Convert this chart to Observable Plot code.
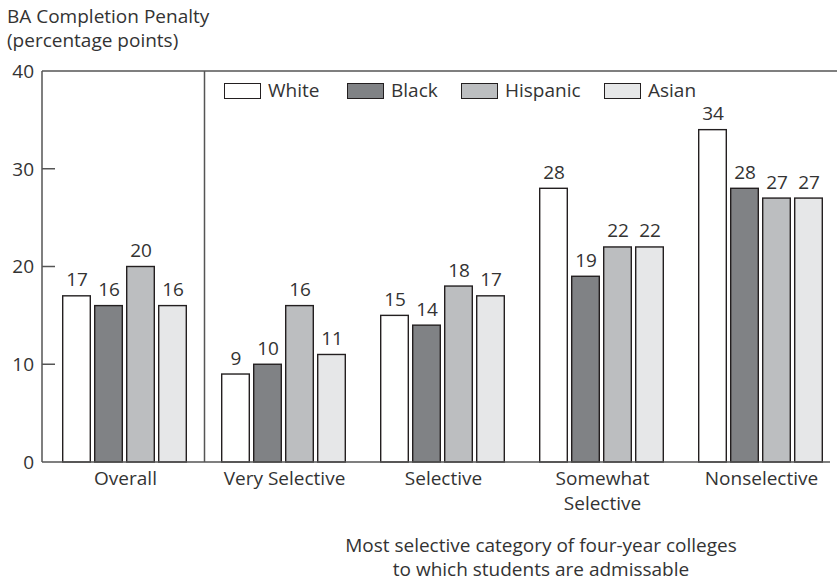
<!DOCTYPE html>
<html>
<head>
<meta charset="utf-8">
<script src="https://cdn.jsdelivr.net/npm/d3@7"></script>
<script src="https://cdn.jsdelivr.net/npm/@observablehq/plot@0.6"></script>
<style>
  body { margin: 0; background: #fff; font-family: "Open Sans", sans-serif; color: #333; }
  #wrap { position: relative; width: 837px; height: 582px; overflow: hidden; }
  .abs { position: absolute; font-size: 19px; line-height: 24px; color: #333; white-space: nowrap; }
  .sw { position: absolute; top: 83px; width: 37px; height: 16px; border: 1.4px solid #231f20; box-sizing: border-box; }
  .lt { position: absolute; top: 78px; font-size: 19px; line-height: 24px; color: #333; white-space: nowrap; }
</style>
</head>
<body>
<div id="wrap">
  <div class="abs" style="left:7px; top:4px;">BA Completion Penalty</div>
  <div class="abs" style="left:7px; top:28px;">(percentage points)</div>
  <div id="chart"></div>
  <div id="legend"></div>
  <div class="abs" style="left:291px; width:500px; top:533px; text-align:center;">Most selective category of four-year colleges</div>
  <div class="abs" style="left:291px; width:500px; top:557px; text-align:center;">to which students are admissable</div>
</div>
<script>
const groups = ["Overall", "Very Selective", "Selective", "Somewhat Selective", "Nonselective"];
const groupLabels = ["Overall", "Very Selective", "Selective", "Somewhat\nSelective", "Nonselective"];
const races = ["White", "Black", "Hispanic", "Asian"];
const colors = ["#ffffff", "#808285", "#bcbec0", "#e6e7e8"];
const white =    [17, 9, 15, 28, 34];
const black =    [16, 10, 14, 19, 28];
const hispanic = [20, 16, 18, 22, 27];
const asian =    [16, 11, 17, 22, 27];
const yTicks = [0, 10, 20, 30, 40];

const series = [white, black, hispanic, asian];
const data = [];
groups.forEach((g, gi) => races.forEach((r, ri) => data.push({group: g, race: r, value: series[ri][gi]})));
const labelData = groups.map((g, i) => ({group: g, label: groupLabels[i]}));

const W = 837, H = 582;
const FONT = "Open Sans, sans-serif";
const chart = Plot.plot({
  width: W, height: H,
  marginTop: 71, marginBottom: 120, marginLeft: 42, marginRight: 0,
  style: {fontFamily: FONT, fontSize: "19px", color: "#333", background: "transparent", overflow: "visible"},
  fx: {domain: groups, range: [44.5, 840.5], paddingInner: 0.21, paddingOuter: 0.105, axis: null, label: null},
  x: {domain: races, paddingInner: 0.09, paddingOuter: 0, axis: null, label: null},
  y: {domain: [0, 40], axis: null, label: null},
  color: {domain: races, range: colors},
  marks: [
    Plot.barY(data, {fx: "group", x: "race", y: "value", fill: "race", stroke: "#231f20", strokeWidth: 1.4, insetLeft: 0.7, insetRight: 0.7}),
    Plot.text(data, {fx: "group", x: "race", y: "value", text: d => String(d.value), lineAnchor: "bottom", dy: -10, fill: "#333", fontSize: 19}),
    Plot.text(labelData, {fx: "group", text: "label", frameAnchor: "bottom", lineAnchor: "top", dy: 4, lineHeight: 1.34, fill: "#333", fontSize: 19})
  ]
});
document.getElementById("chart").appendChild(chart);

// Frame, y-axis and separator drawn with Plot's own scales
const ys = chart.scale("y");
const fxs = chart.scale("fx");
const yPx = v => ys.apply(v);
const svg = d3.select(chart);
const left = 42;
const g = svg.append("g").attr("stroke", "#555").attr("stroke-width", 1.5).attr("fill", "none");
g.append("line").attr("x1", left).attr("x2", W).attr("y1", yPx(40)).attr("y2", yPx(40));
g.append("line").attr("x1", left).attr("x2", left).attr("y1", yPx(40)).attr("y2", yPx(0));
g.append("line").attr("x1", left).attr("x2", 830).attr("y1", yPx(0)).attr("y2", yPx(0));
const bw = fxs.bandwidth;
const sepX = (fxs.apply(groups[0]) + bw + fxs.apply(groups[1])) / 2;
g.append("line").attr("x1", sepX).attr("x2", sepX).attr("y1", yPx(40)).attr("y2", yPx(0));
yTicks.forEach(t => {
  if (t > 0 && t < 40) g.append("line").attr("x1", left).attr("x2", left + 13).attr("y1", yPx(t)).attr("y2", yPx(t));
  svg.append("text").attr("x", 34).attr("y", yPx(t)).attr("text-anchor", "end").attr("dy", "0.36em")
    .attr("fill", "#333").attr("font-size", 19).attr("font-family", FONT).text(t);
});

// legend
const legX = [224, 347, 461, 604];
const leg = document.getElementById("legend");
races.forEach((r, i) => {
  const sw = document.createElement("div"); sw.className = "sw";
  sw.style.left = legX[i] + "px"; sw.style.background = colors[i];
  const tx = document.createElement("div"); tx.className = "lt";
  tx.style.left = (legX[i] + 44) + "px"; tx.textContent = r;
  leg.appendChild(sw); leg.appendChild(tx);
});
</script>
</body>
</html>
